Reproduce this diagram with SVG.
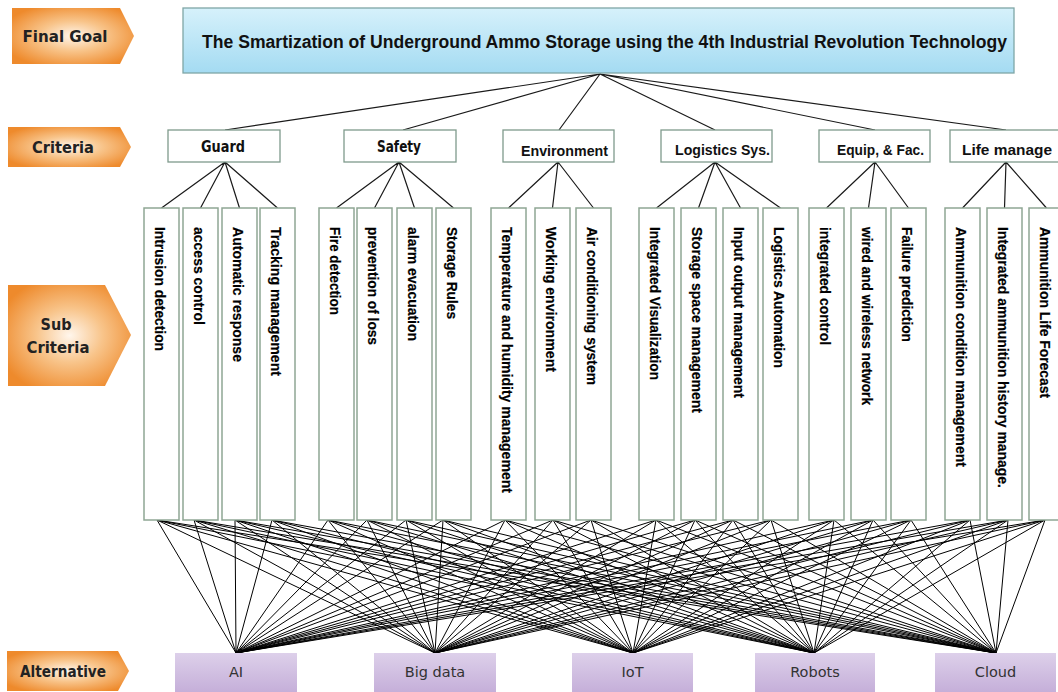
<svg xmlns="http://www.w3.org/2000/svg" width="1058" height="692" viewBox="0 0 1058 692">
<defs>
<radialGradient id="og" cx="50%" cy="50%" r="60%">
<stop offset="0" stop-color="#fff6ec"/>
<stop offset="0.45" stop-color="#f8c48a"/>
<stop offset="1" stop-color="#ee8a2c"/>
</radialGradient>
<linearGradient id="bg" x1="0" y1="0" x2="0" y2="1">
<stop offset="0" stop-color="#d6f1fb"/>
<stop offset="1" stop-color="#a4dbf2"/>
</linearGradient>
<linearGradient id="pg" x1="0" y1="0" x2="0" y2="1">
<stop offset="0" stop-color="#ddd0ea"/>
<stop offset="1" stop-color="#c5afd9"/>
</linearGradient>
<style>
.lab{font-family:"DejaVu Sans",Verdana,sans-serif;font-weight:bold;font-size:15.5px;fill:#222;text-anchor:middle}
.crit{fill:#fff;stroke:#7f9a8c;stroke-width:1.3}
.ct{font-family:"Liberation Sans",Arial,sans-serif;font-weight:bold;font-size:15px;fill:#111;text-anchor:middle}
.ct2{font-family:"DejaVu Sans",Tahoma,sans-serif;font-weight:bold;font-size:15px;fill:#111;text-anchor:middle}
.sub{fill:#fff;stroke:#8fa694;stroke-width:1.5}
.st{font-family:"Liberation Sans",Arial,sans-serif;font-weight:bold;font-size:15.5px;fill:#000;stroke:#000;stroke-width:0.2;dominant-baseline:central}
.alt{fill:url(#pg)}
.at{font-family:"DejaVu Sans",Verdana,sans-serif;font-size:14.5px;fill:#333;text-anchor:middle}
.c1{stroke:#1a1a1a;stroke-width:1.2;fill:none}
.c2{stroke:#000;stroke-width:1;fill:none}
</style>
</defs>
<rect width="1058" height="692" fill="#fff"/>

<g id="level-labels">
<g id="lbl-final"><polygon points="12,8 120,8 134,36 120,64 12,64" fill="url(#og)"/><text class="lab" x="65" y="41.5" textLength="85" lengthAdjust="spacingAndGlyphs">Final Goal</text></g>
<g id="lbl-criteria"><polygon points="8,127 120,127 131,147 120,167 8,167" fill="url(#og)"/><text class="lab" x="63" y="152.5" textLength="62" lengthAdjust="spacingAndGlyphs">Criteria</text></g>
<g id="lbl-sub"><polygon points="8,285 105,285 131,335 105,386 8,386" fill="url(#og)"/><text class="lab" x="56" y="329.5" textLength="31" lengthAdjust="spacingAndGlyphs">Sub</text><text class="lab" x="58" y="352.5" textLength="63" lengthAdjust="spacingAndGlyphs">Criteria</text></g>
<g id="lbl-alt"><polygon points="7,651 118,651 129,671 118,691 7,691" fill="url(#og)"/><text class="lab" x="63" y="676.5" textLength="86" lengthAdjust="spacingAndGlyphs">Alternative</text></g>
</g>

<g id="connectors">
<path class="c1" d="M600 74L225 130M600 74L403 130M600 74L559 130M600 74L715 130M600 74L875 130M600 74L1006 130"/>
<path class="c1" d="M225 162L161.5 208M225 162L200.5 208M225 162L239.5 208M225 162L277.5 208
M399 162L336.5 208M399 162L374.5 208M399 162L414.5 208M399 162L453.5 208
M558 162L508.5 208M558 162L552.5 208M558 162L593.5 208
M715 162L656.5 208M715 162L698.5 208M715 162L740.5 208M715 162L780.5 208
M875 162L826.5 208M875 162L868.5 208M875 162L908.5 208
M1006 162L962.5 208M1006 162L1004.5 208M1006 162L1046.5 208"/>
<path class="c2" d="M157 520L236 653M194 520L236 653M235 520L236 653M272 520L236 653M328 520L236 653M367 520L236 653M406 520L236 653M443 520L236 653M505 520L236 653M553 520L236 653M591 520L236 653M656 520L236 653M695 520L236 653M733 520L236 653M771 520L236 653M834 520L236 653M873 520L236 653M911 520L236 653M970 520L236 653M1008 520L236 653M1045 520L236 653"/>
<path class="c2" d="M157 520L435 653M194 520L435 653M235 520L435 653M272 520L435 653M328 520L435 653M367 520L435 653M406 520L435 653M443 520L435 653M505 520L435 653M553 520L435 653M591 520L435 653M656 520L435 653M695 520L435 653M733 520L435 653M771 520L435 653M834 520L435 653M873 520L435 653M911 520L435 653M970 520L435 653M1008 520L435 653M1045 520L435 653"/>
<path class="c2" d="M157 520L633 653M194 520L633 653M235 520L633 653M272 520L633 653M328 520L633 653M367 520L633 653M406 520L633 653M443 520L633 653M505 520L633 653M553 520L633 653M591 520L633 653M656 520L633 653M695 520L633 653M733 520L633 653M771 520L633 653M834 520L633 653M873 520L633 653M911 520L633 653M970 520L633 653M1008 520L633 653M1045 520L633 653"/>
<path class="c2" d="M157 520L814 653M194 520L814 653M235 520L814 653M272 520L814 653M328 520L814 653M367 520L814 653M406 520L814 653M443 520L814 653M505 520L814 653M553 520L814 653M591 520L814 653M656 520L814 653M695 520L814 653M733 520L814 653M771 520L814 653M834 520L814 653M873 520L814 653M911 520L814 653M970 520L814 653M1008 520L814 653M1045 520L814 653"/>
<path class="c2" d="M157 520L996 653M194 520L996 653M235 520L996 653M272 520L996 653M328 520L996 653M367 520L996 653M406 520L996 653M443 520L996 653M505 520L996 653M553 520L996 653M591 520L996 653M656 520L996 653M695 520L996 653M733 520L996 653M771 520L996 653M834 520L996 653M873 520L996 653M911 520L996 653M970 520L996 653M1008 520L996 653M1045 520L996 653"/>
</g>

<g id="goal"><rect x="183" y="8" width="831" height="65" fill="url(#bg)" stroke="#7fa6a6" stroke-width="1.3"/><text x="604.5" y="47.5" font-family="Liberation Sans, Arial, sans-serif" font-weight="bold" font-size="18" fill="#111" text-anchor="middle" textLength="805" lengthAdjust="spacingAndGlyphs">The Smartization of Underground Ammo Storage using the 4th Industrial Revolution Technology</text></g>

<g id="crit-guard"><rect class="crit" x="168" y="130" width="112" height="32"/><text class="ct2" x="223" y="151.5" textLength="44" lengthAdjust="spacingAndGlyphs">Guard</text></g>
<g id="crit-safety"><rect class="crit" x="344" y="130" width="112" height="32"/><text class="ct2" x="399" y="151.5" textLength="44" lengthAdjust="spacingAndGlyphs">Safety</text></g>
<g id="crit-env"><rect class="crit" x="503" y="130" width="111" height="32"/><text class="ct" x="564.5" y="155.5" textLength="87" lengthAdjust="spacingAndGlyphs">Environment</text></g>
<g id="crit-log"><rect class="crit" x="661" y="130" width="111" height="32"/><text class="ct" x="722.5" y="154.5" textLength="95" lengthAdjust="spacingAndGlyphs">Logistics Sys.</text></g>
<g id="crit-equip"><rect class="crit" x="819" y="130" width="111" height="32"/><text class="ct" x="880.5" y="154.5" textLength="87" lengthAdjust="spacingAndGlyphs">Equip, &amp; Fac.</text></g>
<g id="crit-life"><rect class="crit" x="950" y="130" width="112" height="32"/><text class="ct" x="1007" y="154.5" textLength="90" lengthAdjust="spacingAndGlyphs">Life manage</text></g>

<g id="sub-1"><rect class="sub" x="144" y="208" width="35" height="312"/><text class="st" x="160" y="227" transform="rotate(90 160 227)" textLength="124" lengthAdjust="spacingAndGlyphs">Intrusion detection</text></g>
<g id="sub-2"><rect class="sub" x="183" y="208" width="35" height="312"/><text class="st" x="199" y="227" transform="rotate(90 199 227)" textLength="98" lengthAdjust="spacingAndGlyphs">access control</text></g>
<g id="sub-3"><rect class="sub" x="222" y="208" width="35" height="312"/><text class="st" x="238" y="227" transform="rotate(90 238 227)" textLength="135" lengthAdjust="spacingAndGlyphs">Automatic response</text></g>
<g id="sub-4"><rect class="sub" x="260" y="208" width="35" height="312"/><text class="st" x="276" y="227" transform="rotate(90 276 227)" textLength="149" lengthAdjust="spacingAndGlyphs">Tracking management</text></g>
<g id="sub-5"><rect class="sub" x="319" y="208" width="35" height="312"/><text class="st" x="335" y="227" transform="rotate(90 335 227)" textLength="88" lengthAdjust="spacingAndGlyphs">Fire detection</text></g>
<g id="sub-6"><rect class="sub" x="357" y="208" width="35" height="312"/><text class="st" x="373" y="227" transform="rotate(90 373 227)" textLength="118" lengthAdjust="spacingAndGlyphs">prevention of loss</text></g>
<g id="sub-7"><rect class="sub" x="397" y="208" width="35" height="312"/><text class="st" x="413" y="227" transform="rotate(90 413 227)" textLength="114" lengthAdjust="spacingAndGlyphs">alarm evacuation</text></g>
<g id="sub-8"><rect class="sub" x="436" y="208" width="35" height="312"/><text class="st" x="452" y="227" transform="rotate(90 452 227)" textLength="92" lengthAdjust="spacingAndGlyphs">Storage Rules</text></g>
<g id="sub-9"><rect class="sub" x="491" y="208" width="35" height="312"/><text class="st" x="507" y="227" transform="rotate(90 507 227)" textLength="266" lengthAdjust="spacingAndGlyphs">Temperature and humidity management</text></g>
<g id="sub-10"><rect class="sub" x="535" y="208" width="35" height="312"/><text class="st" x="551" y="227" transform="rotate(90 551 227)" textLength="145" lengthAdjust="spacingAndGlyphs">Working environment</text></g>
<g id="sub-11"><rect class="sub" x="576" y="208" width="35" height="312"/><text class="st" x="592" y="227" transform="rotate(90 592 227)" textLength="158" lengthAdjust="spacingAndGlyphs">Air conditioning system</text></g>
<g id="sub-12"><rect class="sub" x="639" y="208" width="35" height="312"/><text class="st" x="655" y="227" transform="rotate(90 655 227)" textLength="153" lengthAdjust="spacingAndGlyphs">Integrated Visualization</text></g>
<g id="sub-13"><rect class="sub" x="681" y="208" width="35" height="312"/><text class="st" x="697" y="227" transform="rotate(90 697 227)" textLength="186" lengthAdjust="spacingAndGlyphs">Storage space management</text></g>
<g id="sub-14"><rect class="sub" x="723" y="208" width="35" height="312"/><text class="st" x="739" y="227" transform="rotate(90 739 227)" textLength="171" lengthAdjust="spacingAndGlyphs">Input output management</text></g>
<g id="sub-15"><rect class="sub" x="763" y="208" width="35" height="312"/><text class="st" x="779" y="227" transform="rotate(90 779 227)" textLength="141" lengthAdjust="spacingAndGlyphs">Logistics Automation</text></g>
<g id="sub-16"><rect class="sub" x="809" y="208" width="35" height="312"/><text class="st" x="825" y="227" transform="rotate(90 825 227)" textLength="118" lengthAdjust="spacingAndGlyphs">integrated control</text></g>
<g id="sub-17"><rect class="sub" x="851" y="208" width="35" height="312"/><text class="st" x="867" y="227" transform="rotate(90 867 227)" textLength="178" lengthAdjust="spacingAndGlyphs">wired and wireless network</text></g>
<g id="sub-18"><rect class="sub" x="891" y="208" width="35" height="312"/><text class="st" x="907" y="227" transform="rotate(90 907 227)" textLength="115" lengthAdjust="spacingAndGlyphs">Failure prediction</text></g>
<g id="sub-19"><rect class="sub" x="945" y="208" width="35" height="312"/><text class="st" x="961" y="227" transform="rotate(90 961 227)" textLength="240" lengthAdjust="spacingAndGlyphs">Ammunition condition management</text></g>
<g id="sub-20"><rect class="sub" x="987" y="208" width="35" height="312"/><text class="st" x="1003" y="227" transform="rotate(90 1003 227)" textLength="261" lengthAdjust="spacingAndGlyphs">Integrated ammunition history manage.</text></g>
<g id="sub-21"><rect class="sub" x="1029" y="208" width="35" height="312"/><text class="st" x="1045" y="227" transform="rotate(90 1045 227)" textLength="171" lengthAdjust="spacingAndGlyphs">Ammunition Life Forecast</text></g>

<g id="alt-ai"><rect class="alt" x="175" y="653" width="122" height="39"/><text class="at" x="236" y="677">AI</text></g>
<g id="alt-bigdata"><rect class="alt" x="374" y="653" width="122" height="39"/><text class="at" x="435" y="677">Big data</text></g>
<g id="alt-iot"><rect class="alt" x="572" y="653" width="121" height="39"/><text class="at" x="632.5" y="677">IoT</text></g>
<g id="alt-robots"><rect class="alt" x="755" y="653" width="120" height="39"/><text class="at" x="815" y="677">Robots</text></g>
<g id="alt-cloud"><rect class="alt" x="935" y="653" width="121" height="39"/><text class="at" x="995.5" y="677">Cloud</text></g>
</svg>
